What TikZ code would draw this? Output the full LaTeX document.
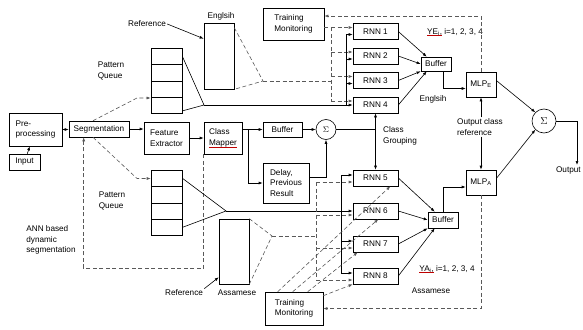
\documentclass[tikz,border=0pt]{standalone}
\usepackage{fontspec}
\setmainfont{Liberation Sans}
\usetikzlibrary{arrows.meta,calc}

\newlength\ulw
\newcommand\redul[1]{\settowidth\ulw{#1}\rlap{\color{red!75!black}\rule[-1.8pt]{\ulw}{0.45pt}}#1}

\begin{document}
\begin{tikzpicture}[x=1pt,y=-1pt,line width=0.6pt,
  font=\fontsize{8.2}{10.5}\selectfont,
  >={Latex[length=4pt,width=3pt]},
  blk/.style={draw,inner sep=1pt,align=left},
  cell/.style={draw,minimum width=31pt,minimum height=16.4pt,inner sep=0pt},
  rnnbox/.style={draw,minimum width=45pt,minimum height=16pt,inner sep=1pt},
  sumc/.style={draw,circle,inner sep=0pt},
  lbl/.style={align=left,inner sep=1pt},
  dsh/.style={draw=black!65,dash pattern=on 4pt off 2.5pt}]
  \useasboundingbox (0,0) rectangle (583,329);

  % front end
  \node[blk,minimum width=53pt,minimum height=33pt] (pre) at (35.5,129.5) {Pre-\\processing};
  \node[blk,minimum width=31pt,minimum height=16pt] (input) at (24.5,162) {Input};
  \node[blk,minimum width=60pt,minimum height=16pt] (seg) at (99,129) {Segmentation};
  \node[blk,minimum width=45pt,minimum height=32pt] (feat) at (166.5,138) {Feature\\Extractor};
  \node[blk,minimum width=38pt,minimum height=32pt] (mapper) at (223,138) {Class\\\redul{Mapper}};
  \node[blk,minimum width=39pt,minimum height=15pt] (buf) at (282.5,129.5) {Buffer};
  \node[blk,minimum width=46pt,minimum height=40pt] (delay) at (286,183) {Delay,\\Previous\\Result};
  \node[sumc,minimum size=20pt] (sum1) at (326,129.5) {$\Sigma$};

  % pattern queues
  \foreach \i in {1,...,4}{
    \node[cell] (qt\i) at (166.5,{48+16.4*(\i-0.5)}) {};
    \node[cell] (qb\i) at (166.5,{170+16.4*(\i-0.5)}) {};
  }

  % reference stores
  \node[draw,minimum width=30pt,minimum height=66pt] (eng) at (219,56) {};
  \node[draw,minimum width=30pt,minimum height=65pt] (asm) at (234,251.5) {};

  % training monitors
  \node[blk,minimum width=61pt,minimum height=32pt] (tmE) at (293.5,24) {Training\\Monitoring};
  \node[blk,minimum width=58pt,minimum height=33pt] (tmA) at (294,308.5) {Training\\Monitoring};

  % RNN banks
  \foreach \i/\y in {1/31.5,2/56,3/80.5,4/105,5/178,6/211,7/244,8/276}
    \node[rnnbox] (rnn\i) at (375.5,\y) {RNN \i};

  % buffers, MLPs, output
  \node[blk,minimum width=30pt,minimum height=14pt] (bufE) at (436,64) {Buffer};
  \node[blk,minimum width=30pt,minimum height=16pt] (bufA) at (443,220) {Buffer};
  \node[blk,minimum width=30pt,minimum height=25pt] (mlpE) at (481,84.5) {MLP\textsubscript{E}};
  \node[blk,minimum width=30pt,minimum height=25pt] (mlpA) at (481,182.5) {MLP\textsubscript{A}};
  \node[sumc,minimum size=24pt,font=\fontsize{10}{12}\selectfont] (sum2) at (544,121) {$\Sigma$};

  % labels
  \node[lbl] (refE) at (147,24) {Reference};
  \node[lbl] (engl) at (221,16) {Englsih};
  \node[lbl] (pqt) at (111,71) {Pattern\\Queue};
  \node[lbl] (pqb) at (112,201) {Pattern\\Queue};
  \node[lbl] (ann) at (51,240) {ANN based\\dynamic\\segmentation};
  \node[lbl] (refA) at (184,293) {Reference};
  \node[lbl] (asml) at (237,293) {Assamese};
  \node[lbl] (ye) at (455,32) {\redul{YE\textsubscript{i},} i=1, 2, 3, 4};
  \node[lbl] (engr) at (433,99) {Englsih};
  \node[lbl] (cgrp) at (400,136) {Class\\Grouping};
  \node[lbl] (ocr) at (480,127) {Output class\\reference};
  \node[lbl] (ya) at (447,269) {\redul{YA\textsubscript{i},} i=1, 2, 3, 4};
  \node[lbl] (asmr) at (431,291) {Assamese};
  \node[lbl,anchor=north east] (out) at (582,165) {Output};
  \coordinate (outx) at (577,0);

  % main chain
  \draw[->] (input) -- (pre);
  \draw[->] (pre.east) -- (pre.east -| seg.west);
  \draw[->] (seg.east) -- (seg.east -| feat.west);
  \draw[->] (feat) -- (mapper);
  \draw[->] (mapper.east |- buf) -- (buf);
  \draw[->] ($(mapper.east |- buf)+(6,0)$) |- (delay);
  \draw[->] (buf) -- (sum1);
  \draw[->] ([yshift=6pt]delay.east) -| (sum1);
  \coordinate (cg) at (sum1 -| rnn4);
  \draw (sum1) -- (cg);
  \draw[->] (cg) -- (rnn4);
  \draw[->] (cg) -- (rnn5);

  % segmentation to queues, feedback loop
  \coordinate (kt) at (137,98);
  \coordinate (kb) at (137,178.5);
  \draw[dsh,->] ([xshift=-6pt]seg.north) -- (kt) -- (kt -| qt1.west);
  \draw[dsh,->] ([xshift=-6pt]seg.south) -- (kb) -- (kb -| qb1.west);
  \draw[dsh,->] (mapper.south west) -- ++(0,114) -| ([xshift=15pt]seg.south west);

  % queues and reference stores
  \coordinate (apE) at (204,105);
  \coordinate (apA) at (226,211);
  \draw (qt1.east) -- (apE) -- ([yshift=3pt]qt4.south east);
  \draw[->] (apE) -- (rnn4);
  \draw (qb1.east) -- (apA) -- (qb4.east);
  \draw[->] (apA) -- (rnn6);
  \draw[->] (refE.east) -- ([yshift=-16pt]eng.north west);
  \draw[->] (refA.north east) -- ([yshift=7pt]asm.south west);
  \coordinate (epE) at (263,81);
  \coordinate (epA) at (272,236);
  \draw[dsh] ([yshift=-5pt]eng.north east) -- (epE) -- (eng.south east);
  \draw[dsh] (asm.north east) -- (epA) -- (asm.south east);

  % buses into the RNN banks
  \coordinate (sbE) at (346,0); \coordinate (dbE) at (331,0);
  \coordinate (sbA) at (341,0); \coordinate (dbA) at (316,0);
  \foreach \i in {1,...,4} \coordinate (d\i) at ([yshift=4pt]rnn\i.west);
  \foreach \i in {1,2,3} \coordinate (s\i) at ([yshift=-3pt]rnn\i.west);
  \foreach \i in {1,...,4} \draw[dsh,->] (d\i -| dbE) -- (d\i);
  \draw[dsh] (d1 -| dbE) -- (d4 -| dbE);
  \draw[dsh] (epE) -- (epE -| dbE);
  \draw[dsh] (tmE.east |- d1) -- (d1 -| dbE);
  \foreach \i in {1,2,3} \draw[->] (s\i -| sbE) -- (s\i);
  \draw (s1 -| sbE) -- (rnn4.west -| sbE);
  \foreach \i in {5,...,8} \coordinate (d\i) at ([yshift=-4pt]rnn\i.west);
  \foreach \i in {5,7,8} \coordinate (s\i) at ([yshift=3pt]rnn\i.west);
  \foreach \i in {5,...,8} \draw[dsh,->] (d\i -| dbA) -- (d\i);
  \draw[dsh] (d5 -| dbA) -- (d8 -| dbA);
  \draw[dsh] (epA) -- (epA -| dbA);
  \foreach \i in {5,7,8} \draw[->] (s\i -| sbA) -- (s\i);
  \draw (s5 -| sbA) -- (s8 -| sbA);

  % training monitoring
  \draw[dsh,->] ([xshift=13pt]tmA.north west) -- ([xshift=-8pt]rnn5.south east);
  \draw[dsh,->] ([xshift=28pt]tmA.north west) -- ([xshift=-20pt]rnn6.south east);
  \draw[dsh,->] ([xshift=43pt]tmA.north west) -- ([xshift=5pt]rnn7.south west);
  \draw[dsh,->] ([yshift=-4pt]tmA.north east) -- (rnn8.south west);
  \draw[dsh,->] (mlpE.north) |- ([yshift=8pt]tmE.east);
  \draw[dsh,->] (mlpA.south) |- (tmA.east);

  % back end
  \draw[->] (rnn1.east) -- ([xshift=6pt]bufE.north west);
  \draw[->] (rnn2.east) -- (bufE.west);
  \draw[->] (rnn3.east) -- (bufE.south west);
  \draw[->] (rnn4.east) -- ([xshift=6pt]bufE.south west);
  \draw[->] (rnn5.east) -- ([xshift=7pt]bufA.north west);
  \draw[->] (rnn6.east) -- (bufA.west);
  \draw[->] (rnn7.east) -- (bufA.south west);
  \draw[->] (rnn8.east) -- ([xshift=7pt]bufA.south west);
  \draw[->] ([xshift=7pt]bufE.south) |- ([yshift=-4pt]mlpE.west);
  \draw[->] (bufA.north) |- ([yshift=-4.5pt]mlpA.west);
  \draw[->] ([yshift=4pt]mlpE.east) -- (sum2.north west);
  \draw[->] ([yshift=4pt]mlpA.east) -- (sum2.south west);
  \draw[->] (sum2.east) -| (out.north -| outx);
  \draw[->] (ocr.north -| mlpE) -- (mlpE);
  \draw[->] (ocr.south -| mlpA) -- (mlpA);
\end{tikzpicture}
\end{document}
